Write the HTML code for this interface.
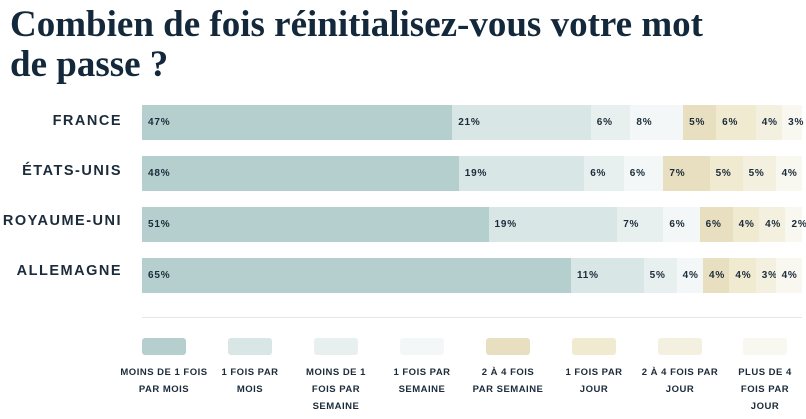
<!DOCTYPE html>
<html><head><meta charset="utf-8"><style>
body{margin:0;width:806px;height:419px;background:#fff;position:relative;overflow:hidden;font-family:"Liberation Sans",sans-serif;color:#1b2b3a}
h1{position:absolute;left:10px;top:5px;margin:0;font-family:"Liberation Serif",serif;font-weight:bold;font-size:37px;line-height:40px;color:#13283a;letter-spacing:0}
.lab{position:absolute;right:684px;font-size:14.5px;font-weight:bold;letter-spacing:1.5px;white-space:nowrap}
.bar{position:absolute;left:142px;width:660px;height:35px;display:flex}
.bar div{height:100%;flex:none;font-size:10px;font-weight:bold;letter-spacing:0.8px;line-height:35px;padding-left:6px;box-sizing:border-box;white-space:nowrap;overflow:visible}
.c0{background:#b5cfcf}.c1{background:#d8e6e5}.c2{background:#e8f0ef}.c3{background:#f3f7f7}.c4{background:#e8dfc0}.c5{background:#f0ead0}.c6{background:#f3f0e0}.c7{background:#f8f7f0}
.sep{position:absolute;left:142px;top:317px;width:660px;height:1px;background:#e3e6e8}
.lg{position:absolute;top:338px;width:86px;text-align:center}
.lg i{display:block;width:44px;height:17px;margin:0 auto;border-radius:3px}
.lg span{display:block;margin:9px auto 0;font-size:9.5px;font-weight:bold;letter-spacing:0.5px;line-height:17px}
</style></head><body>
<h1>Combien de fois réinitialisez-vous votre mot<br>de passe ?</h1>
<div class="lab" style="top:113px">FRANCE</div>
<div class="lab" style="top:163px">ÉTATS-UNIS</div>
<div class="lab" style="top:213px">ROYAUME-UNI</div>
<div class="lab" style="top:263px">ALLEMAGNE</div>
<div class="bar" style="top:105px"><div class="c0" style="width:47%">47%</div><div class="c1" style="width:21%">21%</div><div class="c2" style="width:6%">6%</div><div class="c3" style="width:8%">8%</div><div class="c4" style="width:5%">5%</div><div class="c5" style="width:6%">6%</div><div class="c6" style="width:4%">4%</div><div class="c7" style="width:3%">3%</div></div>
<div class="bar" style="top:156px"><div class="c0" style="width:48%">48%</div><div class="c1" style="width:19%">19%</div><div class="c2" style="width:6%">6%</div><div class="c3" style="width:6%">6%</div><div class="c4" style="width:7%">7%</div><div class="c5" style="width:5%">5%</div><div class="c6" style="width:5%">5%</div><div class="c7" style="width:4%">4%</div></div>
<div class="bar" style="top:207px"><div class="c0" style="width:52.5%">51%</div><div class="c1" style="width:19.5%">19%</div><div class="c2" style="width:7%">7%</div><div class="c3" style="width:5.5%">6%</div><div class="c4" style="width:5%">6%</div><div class="c5" style="width:4%">4%</div><div class="c6" style="width:4%">4%</div><div class="c7" style="width:2.5%">2%</div></div>
<div class="bar" style="top:258px"><div class="c0" style="width:65%">65%</div><div class="c1" style="width:11%">11%</div><div class="c2" style="width:5%">5%</div><div class="c3" style="width:4%">4%</div><div class="c4" style="width:4%">4%</div><div class="c5" style="width:4%">4%</div><div class="c6" style="width:3%">3%</div><div class="c7" style="width:4%">4%</div></div>
<div class="sep"></div>
<div class="lg" style="left:121px"><i class="c0"></i><span style="width:100px;margin-left:-7px">MOINS DE 1 FOIS PAR MOIS</span></div>
<div class="lg" style="left:207px"><i class="c1"></i><span style="width:70px">1 FOIS PAR MOIS</span></div>
<div class="lg" style="left:293px"><i class="c2"></i><span style="width:70px">MOINS DE 1 FOIS PAR SEMAINE</span></div>
<div class="lg" style="left:379px"><i class="c3"></i><span style="width:70px">1 FOIS PAR SEMAINE</span></div>
<div class="lg" style="left:465px"><i class="c4"></i><span style="width:86px">2 À 4 FOIS<br>PAR SEMAINE</span></div>
<div class="lg" style="left:551px"><i class="c5"></i><span style="width:70px">1 FOIS PAR JOUR</span></div>
<div class="lg" style="left:637px"><i class="c6"></i><span style="width:86px">2 À 4 FOIS PAR JOUR</span></div>
<div class="lg" style="left:722px"><i class="c7"></i><span style="width:56px">PLUS DE 4 FOIS PAR JOUR</span></div>
</body></html>
